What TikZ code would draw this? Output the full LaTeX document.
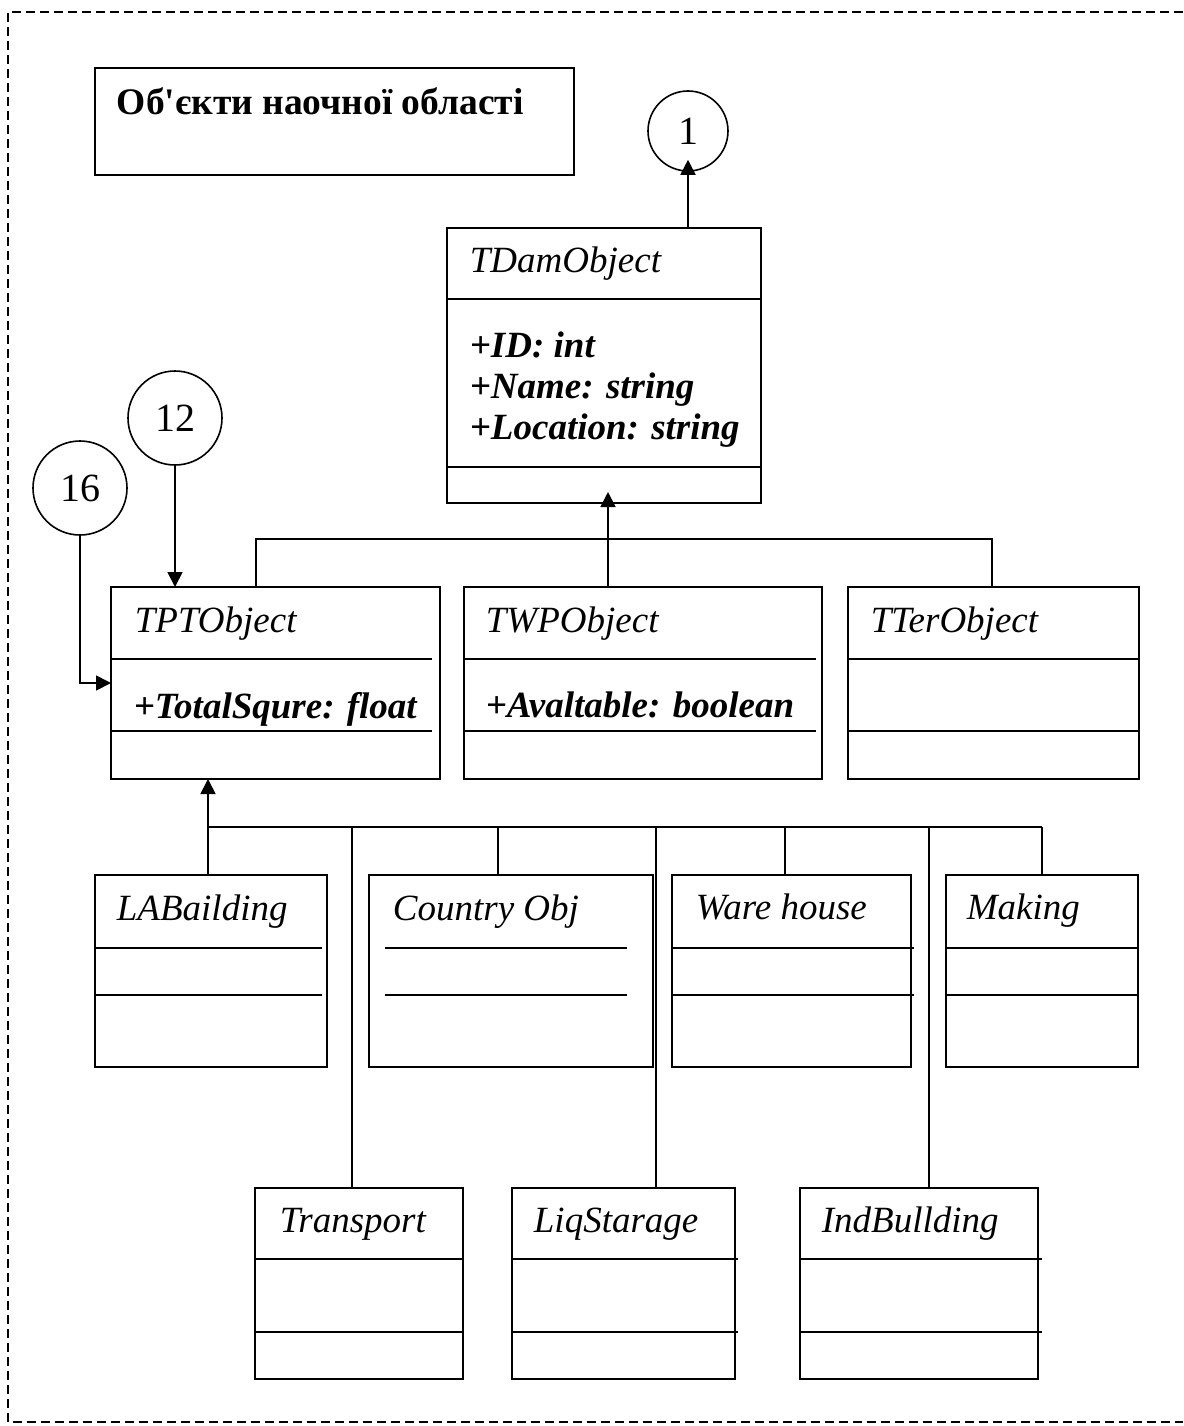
\documentclass[tikz,border=0pt]{standalone}
\usepackage{fontspec}
\newfontfamily\tnr{Liberation Serif}
\usetikzlibrary{arrows.meta}

\begin{document}
\begin{tikzpicture}[x=1pt,y=1pt,yscale=-1,xscale=1,
  line width=1.8pt,
  clsbox/.style={draw, line width=1.8pt, inner sep=0, outer sep=0, anchor=north west},
  clsname/.style={anchor=base west, inner sep=0, font=\tnr\fontsize{37}{41}\selectfont\itshape},
  clsattr/.style={anchor=base west, inner sep=0, font=\tnr\fontsize{37}{41}\selectfont\bfseries\itshape},
  refcirc/.style={draw, circle, line width=1.6pt, inner sep=0, font=\tnr\fontsize{40}{44}\selectfont},
  inh/.style={-{Triangle[length=15pt,width=15pt]}},
  frame/.style={line width=1.8pt, dash pattern={on 9pt off 5pt}}]
\useasboundingbox (0,0) rectangle (1183,1426);

%Dashed frame
\draw[frame] (1183,12) -- (8,12) -- (8,1422) -- (1183,1422);

%Title box
\node[clsbox, minimum width=479, minimum height=107] (titlebox) at (95,68) {};
\node[anchor=base west, inner sep=0, font=\tnr\fontsize{37.5}{42}\selectfont\bfseries] (titletext) at (116,115) {Об'єкти наочної області};

%Reference circles
\node[refcirc, minimum size=80] (c1) at (688,131) {1};
\node[refcirc, minimum size=94] (c12) at (175,418) {12};
\node[refcirc, minimum size=94] (c16) at (80,488) {16};

%Class TDamObject
\node[clsbox, minimum width=314, minimum height=275] (tdam) at (447,228) {};
\draw (447,299) -- (762,299);
\draw (447,467) -- (761,467);
\node[clsname] (tdamname) at (469,272) {TDamObject};
\node[clsattr] (tdamattr1) at (469,357) {+ID: int};
\node[clsattr] (tdamattr2) at (469,398) {+Name: string};
\node[clsattr] (tdamattr3) at (469,439) {+Location: string};

%Class TPTObject
\node[clsbox, minimum width=329, minimum height=192] (tpt) at (111,587) {};
\draw (111,659) -- (432,659);
\draw (111,731) -- (432,731);
\node[clsname] (tptname) at (134,632) {TPTObject};
\node[clsattr] (tptattr) at (133,718) {+TotalSqure: float};

%Class TWPObject
\node[clsbox, minimum width=358, minimum height=192] (twp) at (464,587) {};
\draw (464,659) -- (816,659);
\draw (464,731) -- (816,731);
\node[clsname] (twpname) at (485,632) {TWPObject};
\node[clsattr] (twpattr) at (485,717) {+Avaltable: boolean};

%Class TTerObject
\node[clsbox, minimum width=291, minimum height=192] (tter) at (848,587) {};
\draw (848,659) -- (1139,659);
\draw (848,731) -- (1139,731);
\node[clsname] (ttername) at (870,632) {TTerObject};

%Row of subclasses, first line
\node[clsbox, minimum width=232, minimum height=192] (labuild) at (95,875) {};
\draw (95,948) -- (322,948);
\draw (95,995) -- (322,995);
\node[clsname] (labuildname) at (116,920) {LABailding};

\node[clsbox, minimum width=284, minimum height=192] (country) at (369,875) {};
\draw (385,948) -- (627,948);
\draw (385,995) -- (627,995);
\node[clsname] (countryname) at (392,920) {Country Obj};

\node[clsbox, minimum width=239, minimum height=192] (ware) at (672,875) {};
\draw (672,948) -- (914,948);
\draw (672,995) -- (914,995);
\node[clsname] (warename) at (695,919) {Ware house};

\node[clsbox, minimum width=192, minimum height=192] (making) at (946,875) {};
\draw (946,948) -- (1138,948);
\draw (946,995) -- (1138,995);
\node[clsname] (makingname) at (966,919) {Making};

%Row of subclasses, second line
\node[clsbox, minimum width=208, minimum height=191] (transport) at (255,1188) {};
\draw (255,1259) -- (463,1259);
\draw (255,1332) -- (463,1332);
\node[clsname] (transportname) at (279,1232) {Transport};

\node[clsbox, minimum width=223, minimum height=191] (liqstor) at (512,1188) {};
\draw (512,1259) -- (738,1259);
\draw (512,1332) -- (738,1332);
\node[clsname] (liqstorname) at (533,1232) {LiqStarage};

\node[clsbox, minimum width=238, minimum height=191] (indbuild) at (800,1188) {};
\draw (800,1259) -- (1042,1259);
\draw (800,1332) -- (1042,1332);
\node[clsname] (indbuildname) at (821,1232) {IndBullding};

%Bus points
\coordinate (upL) at (256,539);
\coordinate (upM) at (608,539);
\coordinate (upR) at (992,539);
\coordinate (lo0) at (208,827);
\coordinate (lo1) at (352,827);
\coordinate (lo2) at (498,827);
\coordinate (lo3) at (656,827);
\coordinate (lo4) at (785,827);
\coordinate (lo5) at (929,827);
\coordinate (lo6) at (1042,827);

%Connectors to the circles
\draw[inh, shorten >=-12pt] (c1 |- tdam.north) -- (c1.south);
\draw[inh] (c12.south) -- (c12 |- tpt.north);
\draw[inh] (c16.south) |- (tpt.west);

%Upper hierarchy
\draw[inh, shorten >=-11pt] (upM |- twp.north) -- (upM |- tdam.south);
\draw (upL |- tpt.north) -- (upL) -- (upR) -- (upR |- tter.north);

%Lower hierarchy
\draw[inh] (lo0 |- labuild.north) -- (lo0 |- tpt.south);
\draw (lo0) -- (lo6);
\draw (lo1) -- (lo1 |- transport.north);
\draw (lo2) -- (lo2 |- country.north);
\draw (lo3) -- (lo3 |- liqstor.north);
\draw (lo4) -- (lo4 |- ware.north);
\draw (lo5) -- (lo5 |- indbuild.north);
\draw (lo6) -- (lo6 |- making.north);

\end{tikzpicture}
\end{document}
